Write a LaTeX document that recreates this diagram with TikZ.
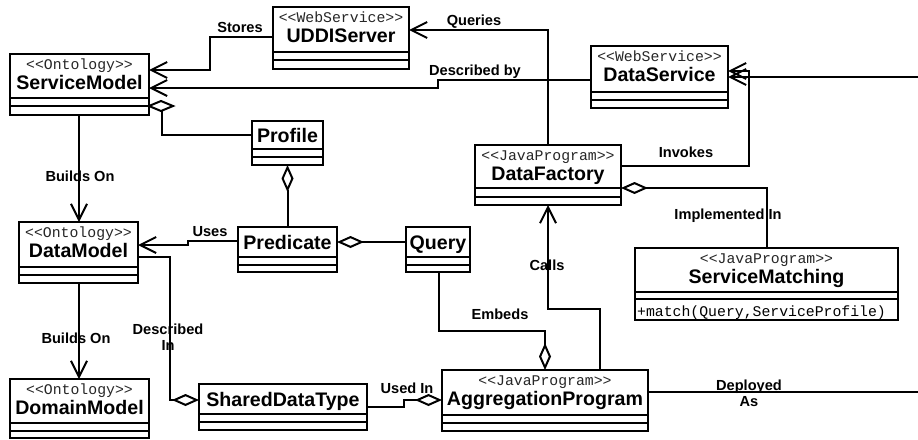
\documentclass[tikz,border=0pt]{standalone}
\usepackage{fontspec}
\setmainfont{Liberation Sans}
\newfontfamily\stereofamily{Liberation Mono}
\usetikzlibrary{arrows.meta}
\newcommand\titlefont{\fontsize{19.6}{22}\selectfont\bfseries}
\newcommand\stereofont{\stereofamily\fontsize{14.8}{17}\selectfont}
\newcommand\lblfont{\fontsize{14.6}{16}\selectfont\bfseries}
% name, left, top, right, sep1, sep2, bottom, stereotype, title
\newcommand\umlclass[9]{%
  \node[classbox, anchor=north west, minimum width={(#4-#2)*1pt}, minimum height={(#7-#3)*1pt}] (#1) at (#2,#3) {};
  \draw[classline] (#2,#5) -- (#4,#5);
  \draw[classline] (#2,#6) -- (#4,#6);
  \node[anchor=base, inner sep=0pt, text=black!85, font=\stereofont] (#1-st) at ({(#2+#4)/2},{#3+15}) {<<#8>>};
  \node[anchor=base, inner sep=0pt, font=\titlefont] (#1-t) at ({(#2+#4)/2},{#3+35}) {#9};
}
% name, left, top, right, sep1, sep2, bottom, title
\newcommand\umlplain[8]{%
  \node[classbox, anchor=north west, minimum width={(#4-#2)*1pt}, minimum height={(#7-#3)*1pt}] (#1) at (#2,#3) {};
  \draw[classline] (#2,#5) -- (#4,#5);
  \draw[classline] (#2,#6) -- (#4,#6);
  \node[anchor=base, inner sep=0pt, font=\titlefont] (#1-t) at ({(#2+#4)/2},{(#3+#5)/2+7}) {#8};
}
\begin{document}
\begin{tikzpicture}[x=1pt,y=-1pt,
  classbox/.style={draw, line width=2.2pt, inner sep=0pt, outer sep=0pt},
  classline/.style={line width=2.2pt},
  conn/.style={line width=2pt},
  opn/.style={conn, -{Straight Barb[length=16pt,width=16pt]}},
  aggr/.style={conn, -{Diamond[open,length=27pt,width=12pt]}},
  lbl/.style={font=\lblfont, inner sep=0pt, align=center}]
\fill[white] (0,0) rectangle (918,439);
\useasboundingbox (0,0) rectangle (918,439);

\umlclass{sm}{10}{54}{149}{98}{106}{115}{Ontology}{ServiceModel}
\umlclass{uddi}{273}{7}{409}{52}{60}{69}{WebService}{UDDIServer}
\umlclass{ds}{591}{46}{728}{92}{100}{108}{WebService}{DataService}
\umlclass{df}{475}{145}{621}{188}{197}{205}{JavaProgram}{DataFactory}
\umlclass{dm}{19}{222}{138}{267}{275}{283}{Ontology}{DataModel}
\umlplain{prof}{252}{121}{323}{149}{157}{165}{Profile}
\umlplain{pred}{238}{227}{337}{257}{265}{272}{Predicate}
\umlplain{query}{406}{227}{470}{257}{265}{272}{Query}
\umlclass{smatch}{635}{248}{898}{292}{299}{320}{JavaProgram}{ServiceMatching}
\node[anchor=base west, inner sep=0pt, font=\stereofont] (smatch-m) at (637,316) {+match(Query,ServiceProfile)};
\umlclass{dom}{10}{379}{149}{423}{431}{438}{Ontology}{DomainModel}
\umlplain{sdt}{199}{384}{367}{414}{422}{430}{SharedDataType}
\umlclass{agg}{442}{370}{648}{415}{423}{431}{JavaProgram}{AggregationProgram}

% connectors
\draw[opn] (uddi.west |- 0,37) -- (210,37) -- (210,70) -- (sm.east |- 0,70);
\draw[opn] (ds.west |- 0,80) -- (438,80) -- (438,88) -- (sm.east |- 0,88);
\draw[opn] (df.north) -- (df.north |- 0,30) -- (uddi.east |- 0,30);
\draw[opn] (df.east |- 0,166) -- (749,166) -- (749,71) -- (ds.east |- 0,71);
\coordinate (rin) at (918,77);
\draw[opn] (rin) -- (ds.east |- rin);
\draw[aggr] (smatch.north -| 767,0) -- (767,188) -- (df.east |- 0,188);
\draw[conn] (prof.west |- 0,135) -- (162,135) -- (162,108);
\draw[conn, fill=white] (149,106) -- (161,101) -- (173,106) -- (161,111) -- cycle;
\draw[aggr] (pred.north -| prof.south) -- (prof.south);
\draw[aggr] (query.west |- 0,242) -- (pred.east |- 0,242);
\draw[opn] (pred.west |- 0,241) -- (188,241) -- (188,245) -- (dm.east |- 0,245);
\draw[opn] (sm.south -| 79,0) -- (dm.north -| 79,0);
\draw[opn] (dm.south -| 79,0) -- (dom.north -| 79,0);
\draw[aggr] (dm.east |- 0,257) -- (170,257) -- (170,400) -- (sdt.west |- 0,400);
\draw[aggr] (sdt.east |- 0,407) -- (404,407) -- (404,400) -- (agg.west |- 0,400);
\draw[aggr] (query.south -| 439,0) -- (439,331) -- (545,331) -- (agg.north -| 545,0);
\draw[opn] (agg.north -| 600,0) -- (600,309) -- (df.south |- 0,309) -- (df.south);
\coordinate (rout) at (918,392);
\draw[conn] (agg.east |- rout) -- (rout);

% labels
\node[lbl] (l-stores) at (240,27) {Stores};
\node[lbl] (l-queries) at (474,22) {Queries};
\node[lbl] (l-descby) at (475,72) {Described by};
\node[lbl] (l-invokes) at (686,152) {Invokes};
\node[lbl] (l-impl) at (728,216) {Implemented In};
\node[lbl] (l-build1) at (80,176) {Builds On};
\node[lbl] (l-build2) at (76,338) {Builds On};
\node[lbl] (l-uses) at (210,232) {Uses};
\node[lbl] (l-descin) at (168,337) {Described\\In};
\node[lbl] (l-usedin) at (407,388) {Used In};
\node[lbl] (l-embeds) at (500,314) {Embeds};
\node[lbl] (l-calls) at (547,265) {Calls};
\node[lbl] (l-deployed) at (749,393) {Deployed\\As};
\end{tikzpicture}
\end{document}
